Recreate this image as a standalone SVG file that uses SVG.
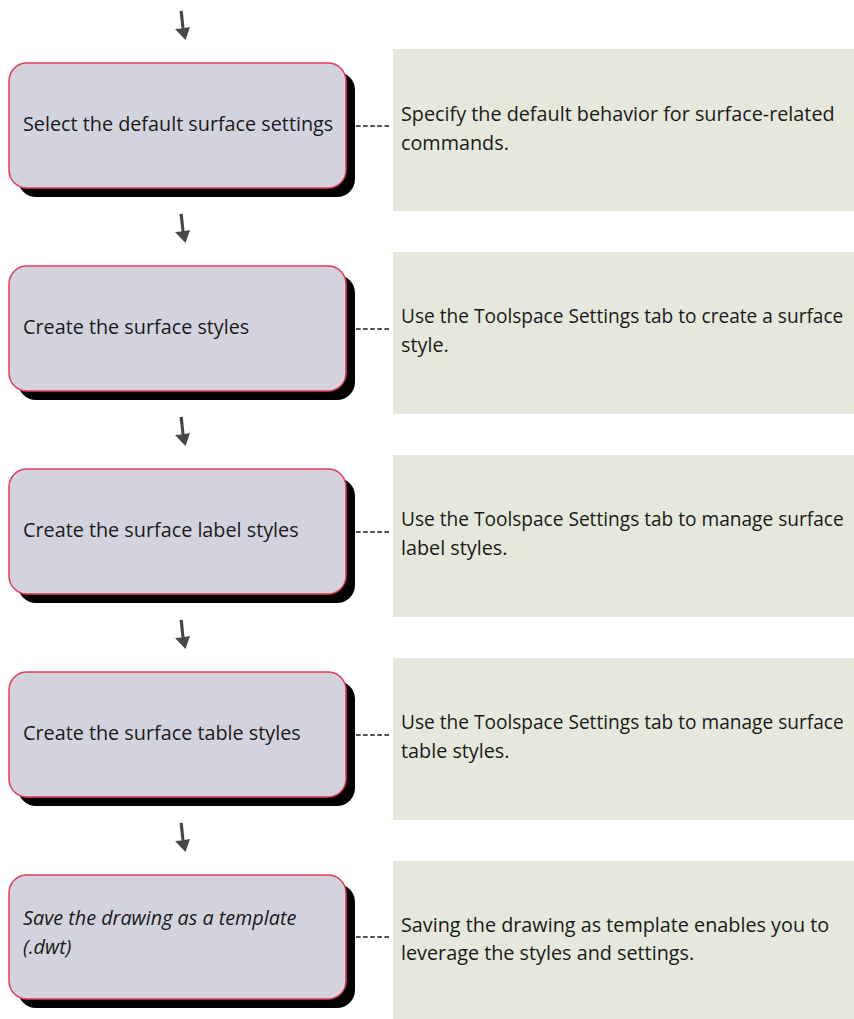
<svg xmlns="http://www.w3.org/2000/svg" width="854" height="1019" viewBox="0 0 854 1019">
  <defs>
    <style>
      .panel { fill: #e5e8da; }
      .shadow { fill: #000; }
      .box { fill: #d3d3de; stroke: #e53a5c; stroke-width: 1.5; }
      .t { font-family: "Open Sans", "Noto Sans", sans-serif; font-size: 19.8px; fill: #1a1a1a; }
      .t.long { font-size: 19.1px; }
      .it { font-style: italic; }
      .dash { stroke: #1a1a1a; stroke-width: 1.3; stroke-dasharray: 4.6 2.5; fill: none; }
      .arrow { fill: #474747; }
    </style>
    <g id="step-arrow">
      <path class="arrow" d="M-1.5,0 L1.8,-0.3 L3.5,17 L9,16 L4.5,29 L-6,18 L0.5,17.5 Z"/>
    </g>
  </defs>

  <rect width="854" height="1019" fill="#fff"/>

  <!-- flow arrows between the steps and leaders to the notes -->
  <g id="connectors">
    <use href="#step-arrow" x="181" y="11"/>
    <use href="#step-arrow" x="181" y="214"/>
    <use href="#step-arrow" x="181" y="417"/>
    <use href="#step-arrow" x="181" y="620"/>
    <use href="#step-arrow" x="181" y="823"/>
    <line class="dash" x1="356" y1="126" x2="389" y2="126"/>
    <line class="dash" x1="356" y1="329" x2="389" y2="329"/>
    <line class="dash" x1="356" y1="532" x2="389" y2="532"/>
    <line class="dash" x1="356" y1="735" x2="389" y2="735"/>
    <line class="dash" x1="356" y1="937" x2="389" y2="937"/>
  </g>

  <!-- step 1 -->
  <g id="step1">
    <rect class="shadow" x="18" y="72" width="337" height="125" rx="18"/>
    <rect class="box" x="9" y="63" width="337" height="125" rx="18"/>
    <text class="t" x="23" y="131">Select the default surface settings</text>
  </g>
  <g id="note1">
    <rect class="panel" x="393" y="49" width="461" height="162"/>
    <text class="t" x="401" y="121">Specify the default behavior for surface-related</text>
    <text class="t" x="401" y="150">commands.</text>
  </g>

  <!-- step 2 -->
  <g id="step2">
    <rect class="shadow" x="18" y="275" width="337" height="125" rx="18"/>
    <rect class="box" x="9" y="266" width="337" height="125" rx="18"/>
    <text class="t" x="23" y="334">Create the surface styles</text>
  </g>
  <g id="note2">
    <rect class="panel" x="393" y="252" width="461" height="162"/>
    <text class="t long" x="401" y="323">Use the Toolspace Settings tab to create a surface</text>
    <text class="t" x="401" y="352">style.</text>
  </g>

  <!-- step 3 -->
  <g id="step3">
    <rect class="shadow" x="18" y="478" width="337" height="125" rx="18"/>
    <rect class="box" x="9" y="469" width="337" height="125" rx="18"/>
    <text class="t" x="23" y="537">Create the surface label styles</text>
  </g>
  <g id="note3">
    <rect class="panel" x="393" y="455" width="461" height="162"/>
    <text class="t long" x="401" y="526">Use the Toolspace Settings tab to manage surface</text>
    <text class="t" x="401" y="555">label styles.</text>
  </g>

  <!-- step 4 -->
  <g id="step4">
    <rect class="shadow" x="18" y="681" width="337" height="125" rx="18"/>
    <rect class="box" x="9" y="672" width="337" height="125" rx="18"/>
    <text class="t" x="23" y="740">Create the surface table styles</text>
  </g>
  <g id="note4">
    <rect class="panel" x="393" y="658" width="461" height="162"/>
    <text class="t long" x="401" y="729">Use the Toolspace Settings tab to manage surface</text>
    <text class="t" x="401" y="758">table styles.</text>
  </g>

  <!-- step 5 -->
  <g id="step5">
    <rect class="shadow" x="18" y="884" width="337" height="124" rx="18"/>
    <rect class="box" x="9" y="875" width="337" height="124" rx="18"/>
    <text class="t it" x="23" y="925">Save the drawing as a template</text>
    <text class="t it" x="23" y="954">(.dwt)</text>
  </g>
  <g id="note5">
    <rect class="panel" x="393" y="861" width="461" height="158"/>
    <text class="t" x="401" y="932">Saving the drawing as template enables you to</text>
    <text class="t" x="401" y="960">leverage the styles and settings.</text>
  </g>
</svg>
